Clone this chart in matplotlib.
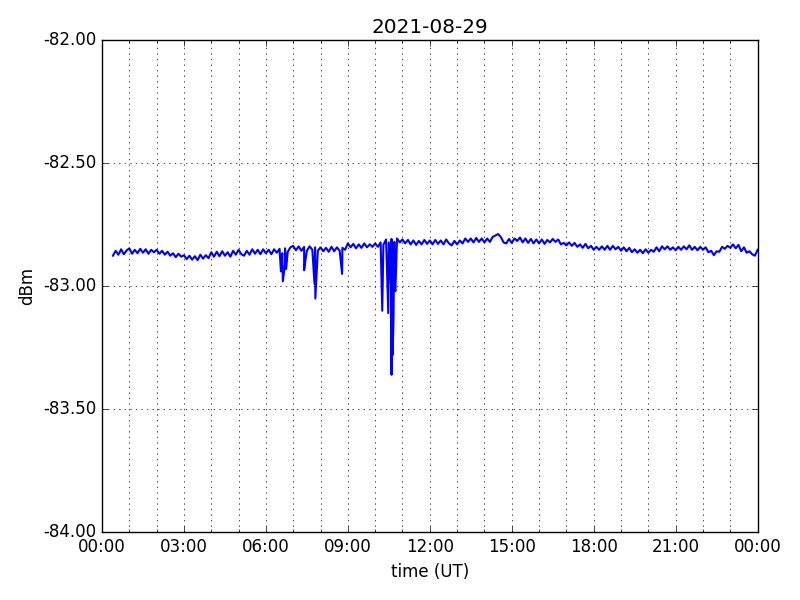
import datetime as dt
import numpy as np
import matplotlib
matplotlib.use('Agg')
import matplotlib.pyplot as plt
import matplotlib.dates as mdates
from matplotlib.ticker import FormatStrFormatter

plt.style.use('classic')

day = dt.datetime(2021, 8, 29)

# baseline signal, one value every 6 minutes from 00:24 to 24:00 (dBm)
base_vals = [
    -82.876, -82.856, -82.872, -82.850, -82.870, -82.855,
    -82.846, -82.868, -82.852, -82.866, -82.848, -82.864, -82.850, -82.868, -82.852, -82.862,
    -82.852, -82.868, -82.856, -82.872, -82.860, -82.876, -82.866, -82.882, -82.868, -82.880,
    -82.874, -82.890, -82.876, -82.892, -82.878, -82.894, -82.872, -82.888, -82.874, -82.886,
    -82.862, -82.880, -82.860, -82.878, -82.858, -82.876, -82.862, -82.880, -82.856, -82.872,
    -82.852, -82.870, -82.876, -82.856, -82.872, -82.850, -82.868, -82.852, -82.870, -82.850,
    -82.866, -82.852, -82.870, -82.850, -82.864, -82.848, -82.866, -82.846, -82.860, -82.842,
    -82.836, -82.854, -82.838, -82.856, -82.840, -82.856, -82.838, -82.852, -82.842, -82.856,
    -82.842, -82.858, -82.844, -82.860, -82.840, -82.858, -82.842, -82.856, -82.844, -82.852,
    -82.826, -82.842, -82.828, -82.846, -82.830, -82.844, -82.826, -82.842, -82.830, -82.840,
    -82.826, -82.840, -82.822, -82.832, -82.810, -82.822, -82.808, -82.820, -82.806, -82.822,
    -82.810, -82.826, -82.812, -82.830, -82.814, -82.832, -82.816, -82.830, -82.812, -82.828,
    -82.814, -82.830, -82.812, -82.828, -82.814, -82.830, -82.810, -82.826, -82.834, -82.816,
    -82.830, -82.814, -82.826, -82.806, -82.820, -82.806, -82.822, -82.804, -82.820, -82.806,
    -82.822, -82.806, -82.820, -82.800, -82.794, -82.788, -82.800, -82.822, -82.826, -82.808,
    -82.824, -82.806, -82.816, -82.802, -82.822, -82.806, -82.824, -82.808, -82.826, -82.810,
    -82.826, -82.810, -82.828, -82.812, -82.822, -82.808, -82.820, -82.810, -82.830, -82.824,
    -82.834, -82.822, -82.836, -82.824, -82.840, -82.830, -82.844, -82.828, -82.846, -82.836,
    -82.852, -82.840, -82.852, -82.838, -82.852, -82.836, -82.852, -82.836, -82.850, -82.840,
    -82.856, -82.842, -82.858, -82.844, -82.862, -82.850, -82.864, -82.852, -82.866, -82.850,
    -82.864, -82.852, -82.860, -82.842, -82.858, -82.838, -82.850, -82.838, -82.852, -82.842,
    -82.854, -82.840, -82.852, -82.838, -82.850, -82.834, -82.852, -82.840, -82.854, -82.840,
    -82.852, -82.842, -82.862, -82.856, -82.874, -82.858, -82.860, -82.840, -82.848, -82.836,
    -82.844, -82.830, -82.846, -82.832, -82.858, -82.842, -82.864, -82.858, -82.870, -82.876,
    -82.852,
]
base_hours = np.linspace(0.4, 24.0, len(base_vals))

# short fades (hour of day, dBm)
dip_hours = [6.55, 6.62, 6.70, 6.74, 7.40, 7.44, 7.78, 7.81, 8.79,
             10.26, 10.48, 10.58, 10.60, 10.64, 10.67, 10.71, 10.74]
dip_vals = [-82.94, -82.98, -82.91, -82.93, -82.935, -82.90, -82.99, -83.05, -82.95,
            -83.10, -83.11, -83.00, -83.36, -83.28, -83.14, -83.00, -83.02]

hours = np.concatenate([base_hours, dip_hours])
vals = np.concatenate([base_vals, dip_vals])
order = np.argsort(hours)
hours = hours[order]
vals = vals[order]
times = [day + dt.timedelta(hours=float(h)) for h in hours]

fig = plt.figure(figsize=(8, 6), dpi=100, facecolor='white')
ax = fig.add_subplot(111)
fig.subplots_adjust(left=0.1275, right=0.947, top=0.933, bottom=0.113)

ax.plot(times, vals, 'b-', linewidth=1.5)

ax.set_xlim(day, day + dt.timedelta(days=1))
ax.set_ylim(-84, -82)
ax.yaxis.set_major_locator(matplotlib.ticker.MultipleLocator(0.5))
ax.yaxis.set_major_formatter(FormatStrFormatter('%.2f'))
ax.xaxis.set_major_locator(mdates.HourLocator(byhour=range(0, 24, 3)))
ax.xaxis.set_minor_locator(mdates.HourLocator())
ax.xaxis.set_major_formatter(mdates.DateFormatter('%H:%M'))

ax.grid(True, which='major')
ax.xaxis.grid(True, which='minor')

ax.set_title('2021-08-29')
ax.set_xlabel('time (UT)')
ax.set_ylabel('dBm')

fig.savefig('out.png', dpi=100, facecolor='white')
